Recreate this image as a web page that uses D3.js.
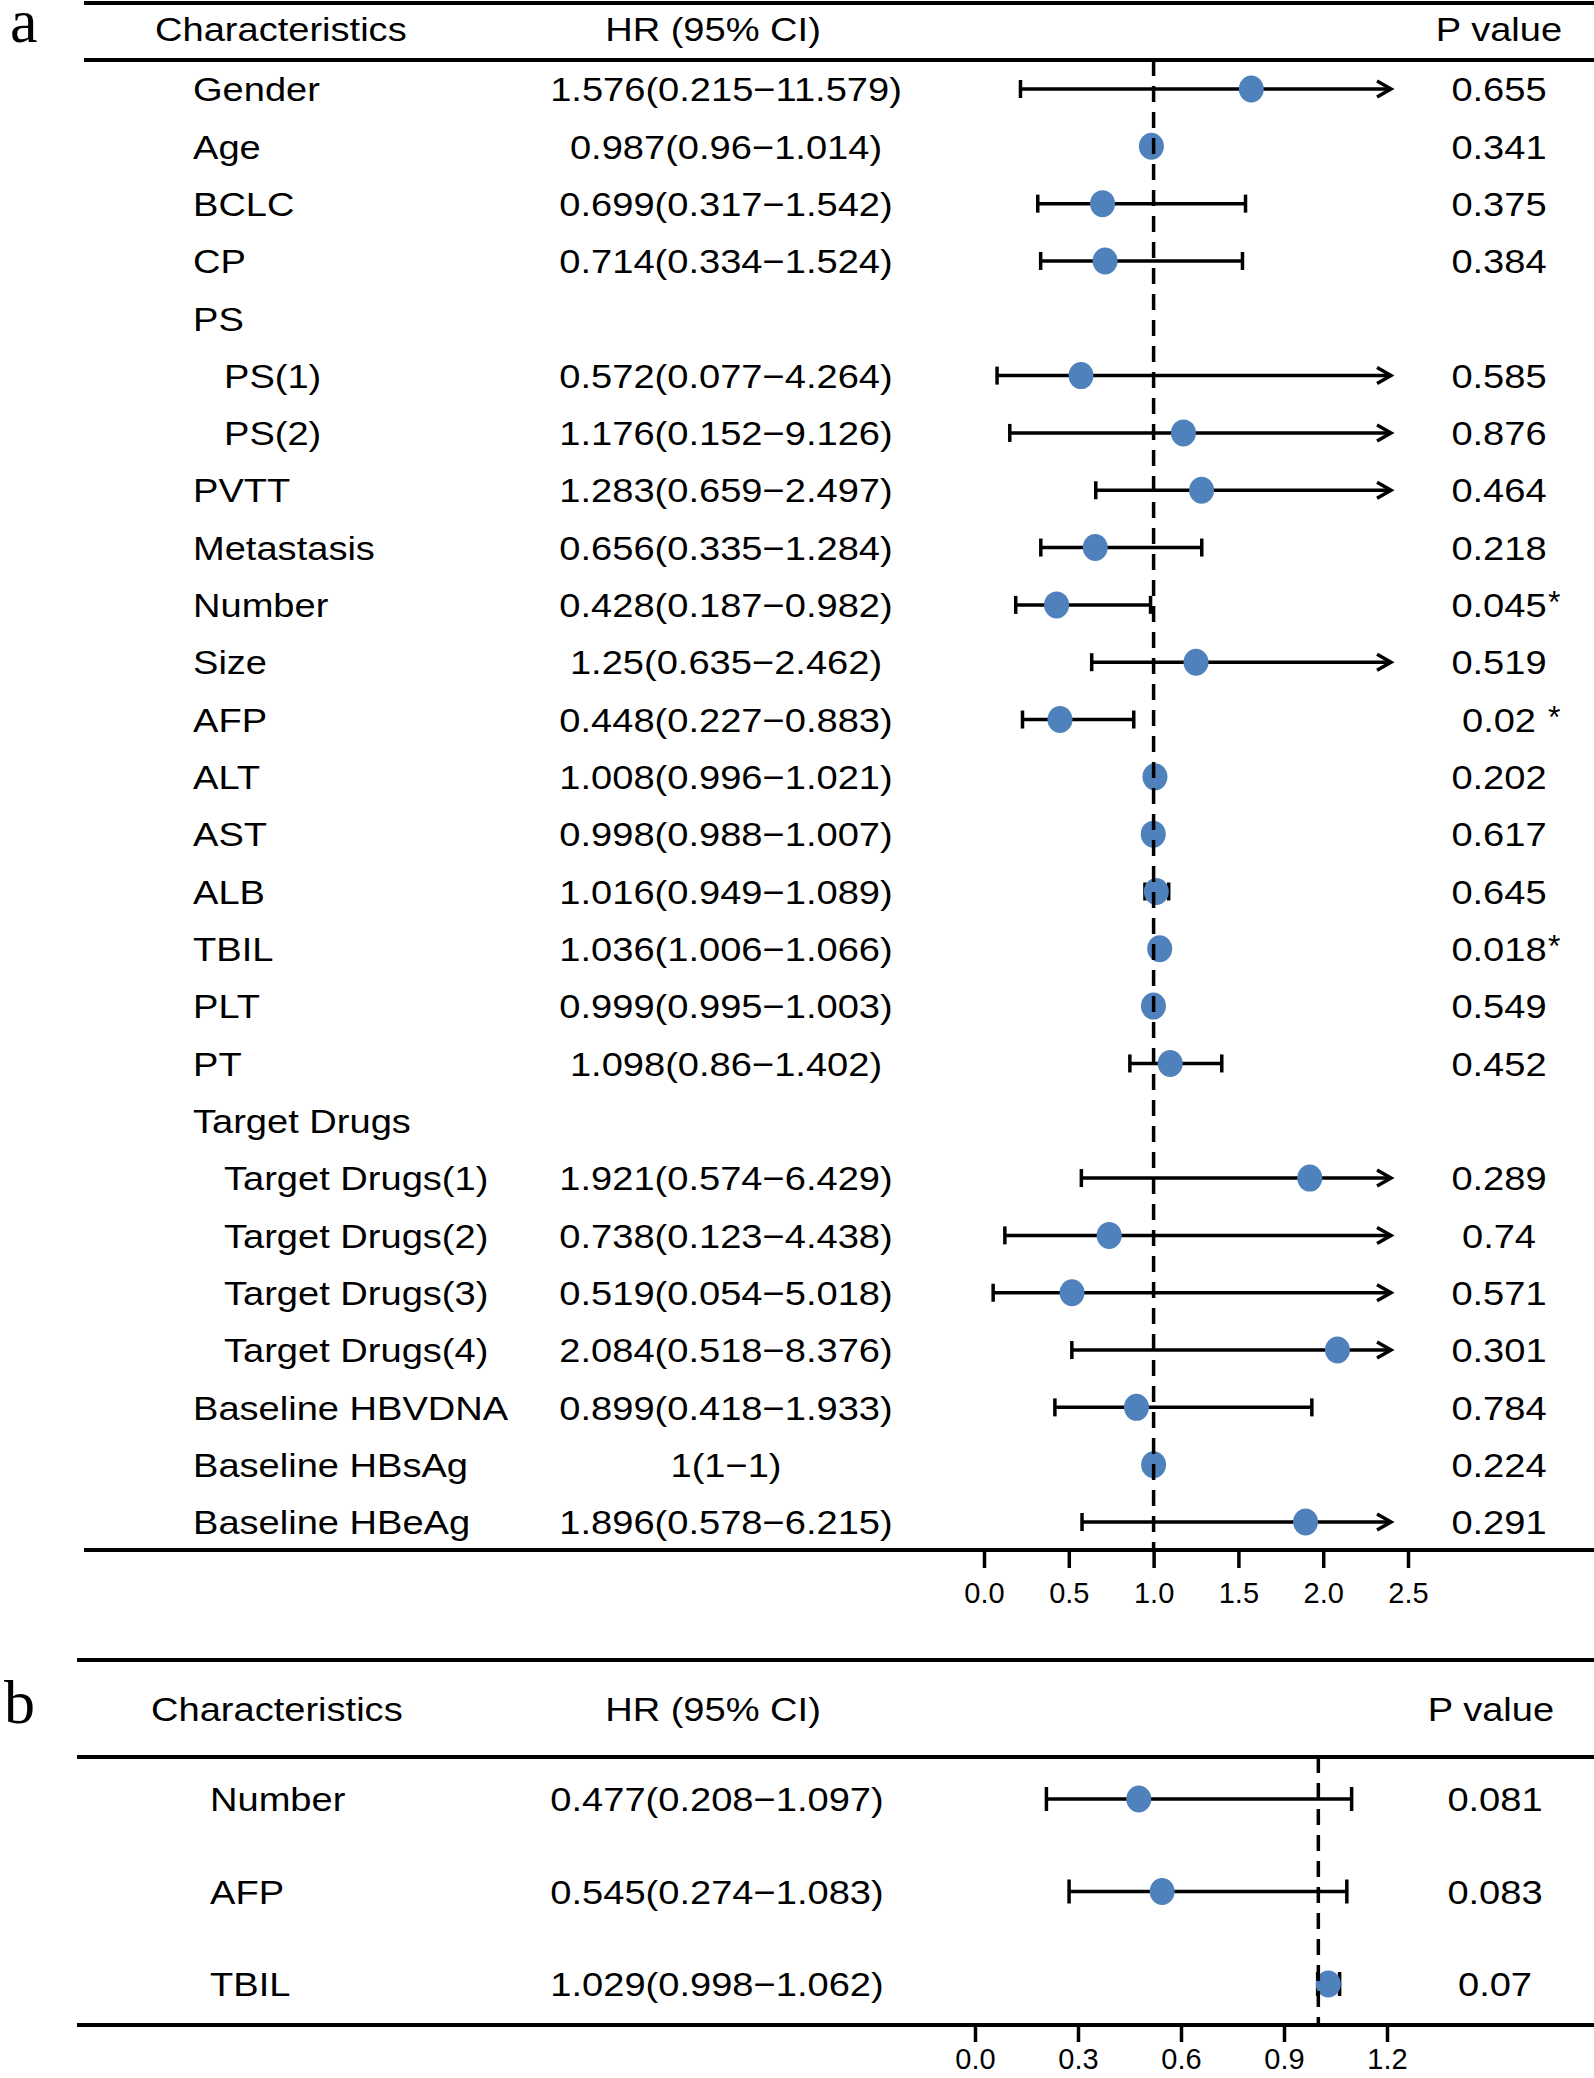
<!DOCTYPE html>
<html><head><meta charset="utf-8">
<script src="https://cdn.jsdelivr.net/npm/d3@7"></script>
<style>body{margin:0;background:#fff}</style>
</head><body>
<svg id="c" width="1594" height="2078" xmlns="http://www.w3.org/2000/svg"></svg>
<script>
// ---------- Panel a data ----------
const charsA = ["Gender","Age","BCLC","CP","PS","PS(1)","PS(2)","PVTT","Metastasis","Number","Size","AFP","ALT","AST","ALB","TBIL","PLT","PT","Target Drugs","Target Drugs(1)","Target Drugs(2)","Target Drugs(3)","Target Drugs(4)","Baseline HBVDNA","Baseline HBsAg","Baseline HBeAg"];
const indentA = [0,0,0,0,0,1,1,0,0,0,0,0,0,0,0,0,0,0,0,1,1,1,1,0,0,0];
const hrA  = [1.576,0.987,0.699,0.714,null,0.572,1.176,1.283,0.656,0.428,1.25,0.448,1.008,0.998,1.016,1.036,0.999,1.098,null,1.921,0.738,0.519,2.084,0.899,1,1.896];
const lowA = [0.215,0.96,0.317,0.334,null,0.077,0.152,0.659,0.335,0.187,0.635,0.227,0.996,0.988,0.949,1.006,0.995,0.86,null,0.574,0.123,0.054,0.518,0.418,1,0.578];
const upA  = [11.579,1.014,1.542,1.524,null,4.264,9.126,2.497,1.284,0.982,2.462,0.883,1.021,1.007,1.089,1.066,1.003,1.402,null,6.429,4.438,5.018,8.376,1.933,1,6.215];
const hrTextA = ["1.576(0.215−11.579)","0.987(0.96−1.014)","0.699(0.317−1.542)","0.714(0.334−1.524)","","0.572(0.077−4.264)","1.176(0.152−9.126)","1.283(0.659−2.497)","0.656(0.335−1.284)","0.428(0.187−0.982)","1.25(0.635−2.462)","0.448(0.227−0.883)","1.008(0.996−1.021)","0.998(0.988−1.007)","1.016(0.949−1.089)","1.036(1.006−1.066)","0.999(0.995−1.003)","1.098(0.86−1.402)","","1.921(0.574−6.429)","0.738(0.123−4.438)","0.519(0.054−5.018)","2.084(0.518−8.376)","0.899(0.418−1.933)","1(1−1)","1.896(0.578−6.215)"];
const pA = ["0.655","0.341","0.375","0.384","","0.585","0.876","0.464","0.218","0.045","0.519","0.02","0.202","0.617","0.645","0.018","0.549","0.452","","0.289","0.74","0.571","0.301","0.784","0.224","0.291"];
const starA = ["","","","","","","","","","*","","*","","","","*","","","","","","","","","",""];
const ticksA = [0,0.5,1.0,1.5,2.0,2.5];
const capA = 2.4;

// ---------- Panel b data ----------
const charsB = ["Number","AFP","TBIL"];
const indentB = [0,0,0];
const hrB  = [0.477,0.545,1.029];
const lowB = [0.208,0.274,0.998];
const upB  = [1.097,1.083,1.062];
const hrTextB = ["0.477(0.208−1.097)","0.545(0.274−1.083)","1.029(0.998−1.062)"];
const pB = ["0.081","0.083","0.07"];
const starB = ["","",""];
const ticksB = [0,0.3,0.6,0.9,1.2];
const capB = 1.2;

const headers = ["Characteristics","HR (95% CI)","P value"];

const svg = d3.select("#c");
const FONT = "'Liberation Sans', Arial, Helvetica, sans-serif";
const BLUE = "#4f81bd";
const FS = 34, SX = 1.12;

function txt(g, x, y, s, anchor, fs, sx, dy){
  return g.append("text")
    .attr("transform", `translate(${x},${y}) scale(${sx},1)`)
    .attr("x", 0).attr("y", 0).attr("dy", dy || 0)
    .attr("text-anchor", anchor || "start")
    .attr("font-family", FONT).attr("font-size", fs)
    .attr("fill", "#000").text(s);
}

function panel(cfg){
  const g = svg.append("g");
  const n = cfg.chars.length;
  const x = d3.scaleLinear().domain(cfg.domain).range(cfg.xRange);
  const y = d3.scaleLinear().domain([0, Math.max(1,n-1)]).range(cfg.yRange);

  // panel letter
  g.append("text").attr("x", cfg.letterX).attr("y", cfg.letterY)
    .attr("font-family","'Liberation Serif','Times New Roman',serif")
    .attr("font-size", 62).text(cfg.letter);

  // table rules
  [cfg.topLine, cfg.headLine].forEach(yy => {
    g.append("line").attr("x1", cfg.lineX0).attr("x2", 1594).attr("y1", yy).attr("y2", yy)
      .attr("stroke","#000").attr("stroke-width",4);
  });

  // headers
  txt(g, cfg.headCharX, cfg.headY, headers[0], "start", FS, SX);
  txt(g, cfg.headHrX, cfg.headY, headers[1], "middle", FS, SX);
  txt(g, cfg.headPX, cfg.headY, headers[2], "middle", FS, SX);

  // row text
  cfg.chars.forEach((c,i) => {
    const yy = y(i);
    txt(g, cfg.labelX + cfg.indent[i]*cfg.indentW, yy, c, "start", FS, SX, "0.36em");
    if (cfg.hrText[i]) txt(g, cfg.hrX, yy, cfg.hrText[i], "middle", FS, SX, "0.36em");
    if (cfg.p[i]) txt(g, cfg.pX, yy, cfg.p[i], "middle", FS, SX, "0.36em");
    if (cfg.star[i]) txt(g, cfg.pX + 49, yy - 3, cfg.star[i], "start", 32, 1, "0.36em");
  });

  // CIs
  const ci = g.append("g").attr("stroke","#000").attr("stroke-width",3.5).attr("fill","none");
  cfg.hr.forEach((v,i) => {
    if (v === null) return;
    const yy = y(i);
    const lo = cfg.low[i], hi = cfg.up[i];
    const arrow = hi > cfg.cap;
    const x1 = x(lo), x2 = x(arrow ? cfg.cap : hi);
    ci.append("line").attr("x1", x1).attr("x2", x2).attr("y1", yy).attr("y2", yy);
    ci.append("line").attr("x1", x1).attr("x2", x1).attr("y1", yy - cfg.capH).attr("y2", yy + cfg.capH);
    if (arrow) {
      ci.append("path").attr("d", `M${x2-14},${yy-8}L${x2},${yy}L${x2-14},${yy+8}`);
    } else {
      ci.append("line").attr("x1", x2).attr("x2", x2).attr("y1", yy - cfg.capH).attr("y2", yy + cfg.capH);
    }
  });
  // points
  g.append("g").selectAll("ellipse").data(cfg.hr.map((v,i)=>({v,i})).filter(d=>d.v!==null))
    .join("ellipse").attr("cx", d => x(d.v)).attr("cy", d => y(d.i))
    .attr("rx", 12.5).attr("ry", 13.5).attr("fill", BLUE);

  // reference line (drawn on top)
  g.append("line").attr("x1", x(1)).attr("x2", x(1)).attr("y1", cfg.headLine).attr("y2", cfg.axisY)
    .attr("stroke","#000").attr("stroke-width",3.5).attr("stroke-dasharray","16,10");

  // bottom rule + axis
  g.append("line").attr("x1", cfg.lineX0).attr("x2", 1594).attr("y1", cfg.axisY).attr("y2", cfg.axisY)
    .attr("stroke","#000").attr("stroke-width",4);
  const ax = g.append("g").attr("transform", `translate(0,${cfg.axisY})`)
    .call(d3.axisBottom(x).tickValues(cfg.ticks).tickFormat(d3.format(".1f")).tickSize(cfg.tickLen).tickPadding(cfg.tickPad));
  ax.select(".domain").remove();
  ax.selectAll(".tick line").attr("stroke","#000").attr("stroke-width",3.5);
  ax.selectAll(".tick text").attr("font-family", FONT).attr("font-size", 29).attr("fill","#000");
}

panel({
  letter:"a", letterX:10, letterY:42,
  chars:charsA, indent:indentA, hr:hrA, low:lowA, up:upA, hrText:hrTextA, p:pA, star:starA,
  ticks:ticksA, cap:capA, domain:[0,2.5], xRange:[984,1408], yRange:[89,1522],
  lineX0:84, topLine:3, headLine:60, headY:41, axisY:1550,
  headCharX:155, headHrX:713, headPX:1499,
  labelX:193, indentW:31, hrX:726, pX:1499,
  capH:9, tickLen:18, tickPad:14
});

panel({
  letter:"b", letterX:4, letterY:1723,
  chars:charsB, indent:indentB, hr:hrB, low:lowB, up:upB, hrText:hrTextB, p:pB, star:starB,
  ticks:ticksB, cap:capB, domain:[0,1.2], xRange:[975,1387], yRange:[1799,1984],
  lineX0:77, topLine:1660, headLine:1757, headY:1721, axisY:2025,
  headCharX:151, headHrX:713, headPX:1491,
  labelX:210, indentW:0, hrX:717, pX:1495,
  capH:12, tickLen:17, tickPad:6
});
</script>
</body></html>
